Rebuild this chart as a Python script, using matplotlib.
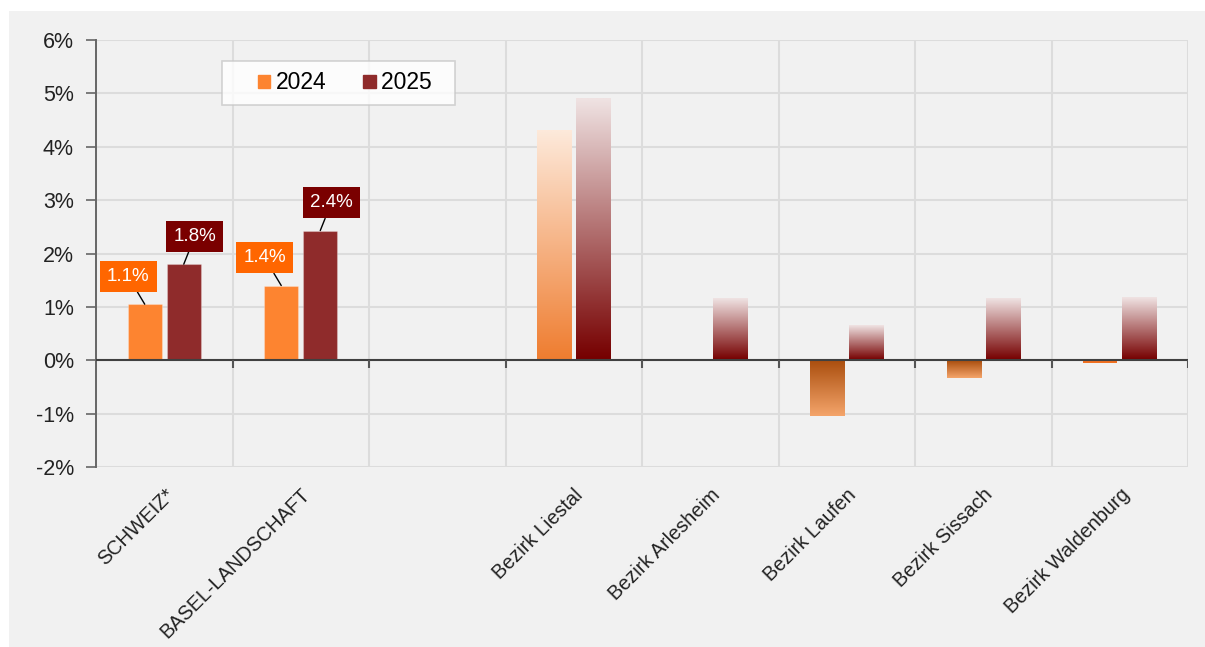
"""Bar chart: growth 2024 / 2025 by region."""

import numpy as np
import matplotlib
matplotlib.use('Agg')
import matplotlib.pyplot as plt
from matplotlib.colors import to_rgb
from matplotlib.legend_handler import HandlerPatch
from matplotlib.patches import Patch, Rectangle

plt.rcParams['font.family'] = ['Liberation Sans', 'DejaVu Sans']

categories = ['SCHWEIZ*', 'BASEL-LANDSCHAFT', '', 'Bezirk Liestal', 'Bezirk Arlesheim',
              'Bezirk Laufen', 'Bezirk Sissach', 'Bezirk Waldenburg']
years = ['2024', '2025']
values_2024 = [1.05, 1.4, np.nan, 4.3, 0.0, -1.05, -0.33, -0.05]
values_2025 = [1.8, 2.43, np.nan, 4.9, 1.15, 0.65, 1.15, 1.17]
# labels shown only for the two aggregate rows
labels_2024 = ['1.1%', '1.4%', '', '', '', '', '', '']
labels_2025 = ['1.8%', '2.4%', '', '', '', '', '', '']

solid = {'2024': '#fd8430', '2025': '#8f2b2b'}
label_box = {'2024': '#ff6600', '2025': '#7a0000'}
# gradient colours (far end, near zero) by sign
grad = {
    ('2024', 1): ('#fde9da', '#ef7d30'),
    ('2024', -1): ('#f4a46a', '#a94d0d'),
    ('2025', 1): ('#efe2e2', '#760000'),
    ('2025', -1): ('#efe2e2', '#760000'),
}

bg = '#f1f1f1'
fig = plt.figure(figsize=(12.05, 6.47), dpi=100)
fig.patch.set_facecolor('white')
fig.patches.append(Rectangle((9 / 1205, 0), 1, 1 - 11 / 647, transform=fig.transFigure,
                             facecolor=bg, edgecolor='none', zorder=-10))
ax = fig.add_axes([96 / 1205, 1 - 467 / 647, 1092 / 1205, 427 / 647])
ax.set_facecolor(bg)

x = np.arange(len(categories))
width = 0.25
offset = 0.143
ax.set_xlim(-0.5, len(categories) - 0.5)
ax.set_ylim(-2, 6)


def gradient_bar(xc, val, year):
    if np.isnan(val) or val == 0:
        return
    sign = 1 if val > 0 else -1
    far, near = grad[(year, sign)]
    if abs(val) < 0.06:
        # too thin for a visible gradient
        ax.bar(xc, val, width, color='#f07020', zorder=3, linewidth=0)
        return
    n = 64
    t = np.linspace(0, 1, n)[:, None]  # 0 at bottom of image, 1 at top
    c_far, c_near = np.array(to_rgb(far)), np.array(to_rgb(near))
    if sign > 0:
        col = c_near + (c_far - c_near) * t
    else:
        col = c_far + (c_near - c_far) * t
    img = np.repeat(col[:, None, :], 2, axis=1)
    y0, y1 = (0, val) if sign > 0 else (val, 0)
    ax.imshow(img, extent=(xc - width / 2, xc + width / 2, y0, y1), origin='lower',
              aspect='auto', interpolation='bilinear', zorder=3)


for vals, labs, year, sgn in [(values_2024, labels_2024, '2024', -1),
                              (values_2025, labels_2025, '2025', 1)]:
    for i, (cat, v, lab) in enumerate(zip(categories, vals, labs)):
        xc = x[i] + sgn * offset
        if np.isnan(v):
            continue
        if cat.startswith('Bezirk'):
            gradient_bar(xc, v, year)
        else:
            ax.bar(xc, v, width, color=solid[year], edgecolor='#ffffff40',
                   linewidth=0.8, zorder=3)
        if lab:
            dx = -12 if year == '2024' else 8
            ax.annotate(lab, xy=(xc, v), xytext=(dx, 20), textcoords='offset points',
                        ha='center', va='center', color='white', fontsize=13.5,
                        bbox=dict(boxstyle='square,pad=0.38', fc=label_box[year], ec='none'),
                        arrowprops=dict(arrowstyle='-', color='black', lw=1,
                                        shrinkA=0, shrinkB=0),
                        zorder=5)

# axes styling
ax.set_yticks(np.arange(-2, 7))
ax.set_yticklabels([f'{v}%' for v in range(-2, 7)], fontsize=15.5, color='#222222')
ax.tick_params(axis='y', length=7, width=1.2, color='#666666', pad=9)
ax.set_xticks(x)
ax.set_xticklabels(categories, rotation=45, ha='right', rotation_mode='anchor',
                   fontsize=14.3, color='#222222')
ax.tick_params(axis='x', length=0, pad=13)
ax.set_xticks(np.arange(-0.5, len(categories)), minor=True)
ax.tick_params(axis='x', which='minor', length=0)
ax.grid(axis='y', which='major', color='#dcdcdc', lw=1.5, zorder=0)
ax.grid(axis='x', which='minor', color='#dcdcdc', lw=1.5, zorder=0)
ax.grid(axis='x', which='major', visible=False)
for s in ['top', 'right', 'bottom']:
    ax.spines[s].set_visible(False)
ax.spines['left'].set_color('#666666')
ax.spines['left'].set_linewidth(1.4)
ax.axhline(0, color='#404040', lw=1.5, zorder=4)
ax.vlines(np.arange(0.5, len(categories)), -0.14, 0, color='#555555', lw=1.5, zorder=4)


def right_square(legend, orig_handle, xdescent, ydescent, width, height, fontsize):
    s = fontsize * 0.55
    return Rectangle((width - s - xdescent, -ydescent + (height - s) / 2), s, s)


handles = [Patch(color=solid[y]) for y in years]
leg = ax.legend(handles, [years[0], years[1] + '  '], loc='upper left',
                bbox_to_anchor=((222 - 96) / 1092, (467 - 61) / 427), ncol=2,
                fontsize=16.5, frameon=True, fancybox=False, borderpad=0.45,
                handlelength=1.65, handleheight=0.7, handletextpad=0.25,
                columnspacing=0.5, borderaxespad=0,
                handler_map={Patch: HandlerPatch(patch_func=right_square)})
leg.get_frame().set_facecolor('white')
leg.get_frame().set_edgecolor('#c8c8c8')
leg.get_frame().set_linewidth(1.2)
leg.set_zorder(6)

fig.savefig('out.png', dpi=100, facecolor=fig.get_facecolor())
